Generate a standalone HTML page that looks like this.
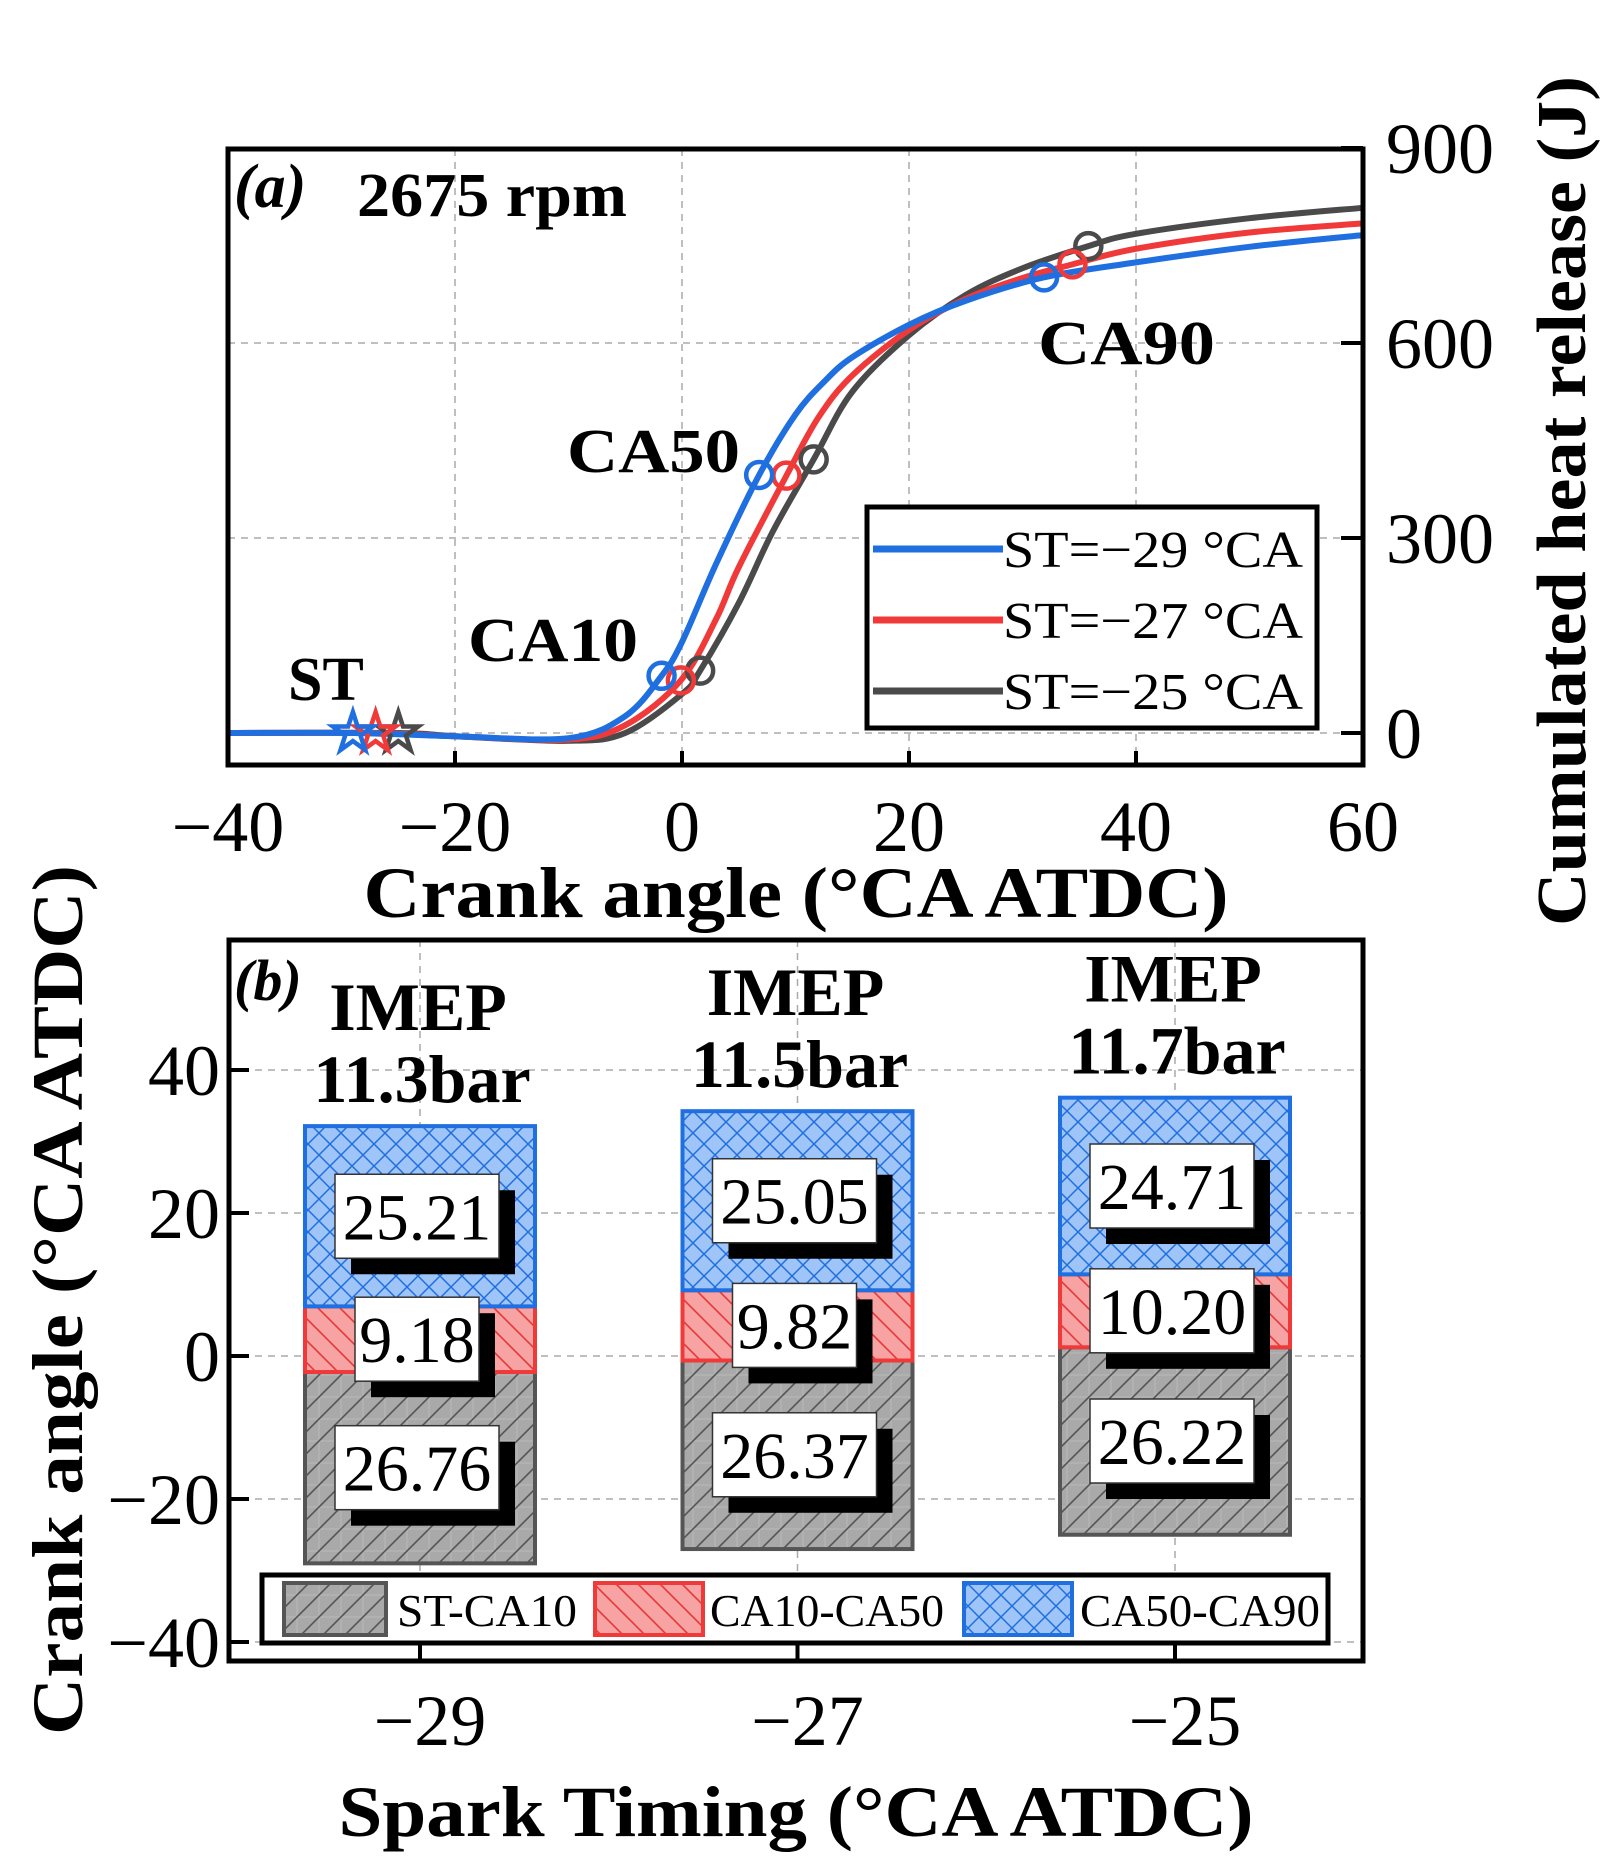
<!DOCTYPE html>
<html><head><meta charset="utf-8"><style>
html,body{margin:0;padding:0;background:#fff;}
svg{display:block;font-family:"Liberation Serif",serif;}
</style></head><body>
<svg id="fig" width="1612" height="1869" viewBox="0 0 1612 1869" xmlns="http://www.w3.org/2000/svg">
<defs>
<pattern id="hatGray" patternUnits="userSpaceOnUse" width="22" height="22">
<rect width="22" height="22" fill="#a9a9a9"/>
<path d="M0 11H22M11 0V22" stroke="#b9b9b9" stroke-width="1"/>
<path d="M-2 24L24 -2M-2 2L2 -2M20 24L24 20" stroke="#555" stroke-width="1.6"/>
</pattern>
<pattern id="hatRed" patternUnits="userSpaceOnUse" width="22" height="22">
<rect width="22" height="22" fill="#f7a3a3"/>
<path d="M-2 -2L24 24M-2 20L2 24M20 -2L24 2" stroke="#e83838" stroke-width="1.6"/>
</pattern>
<pattern id="hatBlue" patternUnits="userSpaceOnUse" width="22" height="22">
<rect width="22" height="22" fill="#9fc4f7"/>
<path d="M-2 -2L24 24M-2 24L24 -2" stroke="#1f6fe0" stroke-width="1.5"/>
</pattern>
</defs>
<g id="pa"></g>
<g id="pb"></g>
</svg>
<script>
// ---------- Panel (a) data ----------
const aXTicks = [-40, -20, 0, 20, 40, 60];
const aYTicks = [0, 300, 600, 900];
const seriesNames = ["ST=\u221229 \u00b0CA", "ST=\u221227 \u00b0CA", "ST=\u221225 \u00b0CA"];
const sparkTimes = [-29, -27, -25];
const blueX = [-40,-29,-20,-10,-5,-1.8,0,3,6.8,10,12.5,15,20,25,31.9,40,50,60];
const blueY = [0,0,-5,-8,26,88,140,260,397,490,540,578,628,665,701,724,748,766];
const redX = [-40,-27,-20,-10,-5,-0.1,3,5,9.2,12,15,20,25,30,34.4,40,50,60];
const redY = [0,0,-5,-10,12,81,175,255,396,485,550,620,668,700,721,745,770,784];
const grayX = [-40,-25,-20,-10,-5,0,1.6,5,8,11.6,15,20,25,30,35.8,40,50,60];
const grayY = [0,0,-5,-12,0,60,96,200,310,421,525,612,674,715,749,768,792,808];
const ca10X = [-1.8,-0.1,1.6], ca10Y = [88,81,96];
const ca50X = [6.8,9.2,11.6], ca50Y = [397,396,421];
const ca90X = [31.9,34.4,35.8], ca90Y = [701,721,749];
// ---------- Panel (b) data ----------
const bCats = ["\u221229", "\u221227", "\u221225"];
const bST = [-29, -27, -25];
const stToCa10 = [26.76, 26.37, 26.22];
const ca10ToCa50 = [9.18, 9.82, 10.20];
const ca50ToCa90 = [25.21, 25.05, 24.71];
const imepLabels = ["11.3bar", "11.5bar", "11.7bar"];
const bYTicks = [-40, -20, 0, 20, 40];

const NS = "http://www.w3.org/2000/svg";
function mk(tag, attrs, parent, text){
  const e = document.createElementNS(NS, tag);
  for (const k in attrs) e.setAttribute(k, attrs[k]);
  if (text !== undefined) e.textContent = text;
  parent.appendChild(e);
  return e;
}
const colors = ["#1f6fe0", "#f03a3a", "#4a4a4a"];
const pa = document.getElementById('pa');
const ax = {l:228, r:1363, t:149, b:765};
const xa = v => ax.l + (v + 40) / 100 * (ax.r - ax.l);
const ya = v => 733 - v * 195 / 300;

aXTicks.slice(1, -1).forEach(t => {
  const g = mk('line', {x1:xa(t), x2:xa(t), y1:ax.t, y2:ax.b, stroke:'#aaa', 'stroke-width':1.5, 'stroke-dasharray':'7 6'}, pa);
  
  
});
aYTicks.forEach(t => {
  const g = mk('line', {x1:ax.l, x2:ax.r, y1:ya(t), y2:ya(t), stroke:'#aaa', 'stroke-width':1.5, 'stroke-dasharray':'7 6'}, pa);
  
  
});
function spline(xs, ys){
  const p = xs.map((x,i)=>[xa(x), ya(ys[i])]);
  let d = `M${p[0][0]},${p[0][1]}`;
  for (let i=0;i<p.length-1;i++){
    const p0=p[Math.max(0,i-1)], p1=p[i], p2=p[i+1], p3=p[Math.min(p.length-1,i+2)];
    const c1=[p1[0]+(p2[0]-p0[0])/6, p1[1]+(p2[1]-p0[1])/6];
    const c2=[p2[0]-(p3[0]-p1[0])/6, p2[1]-(p3[1]-p1[1])/6];
    d += ` C${c1[0]},${c1[1]} ${c2[0]},${c2[1]} ${p2[0]},${p2[1]}`;
  }
  return d;
}
const curveData = [[grayX,grayY,2],[redX,redY,1],[blueX,blueY,0]];
curveData.forEach(([xs,ys,ci]) => {
  const c = mk('path', {d:spline(xs,ys), fill:'none', stroke:colors[ci], 'stroke-width':6}, pa);
  
  
});
[2,1,0].forEach(i => {
  [[ca10X,ca10Y],[ca50X,ca50Y],[ca90X,ca90Y]].forEach(([xs,ys], k) => {
    const m = mk('circle', {cx:xa(xs[i]), cy:ya(ys[i]), r:13, fill:'none', stroke:colors[i], 'stroke-width':4.5}, pa);
    
    
  });
  const cx = xa(sparkTimes[i]), cy = ya(0);
  let pts = [];
  for (let j=0;j<10;j++){ const r = j%2? 8:21; const a = -Math.PI/2 + j*Math.PI/5; pts.push((cx+r*Math.cos(a)).toFixed(1)+','+(cy+r*Math.sin(a)).toFixed(1)); }
  const s = mk('polygon', {points:pts.join(' '), fill:'none', stroke:colors[i], 'stroke-width':4.5}, pa);
  
  
});
mk('rect', {x:ax.l, y:ax.t, width:ax.r-ax.l, height:ax.b-ax.t, fill:'none', stroke:'#000', 'stroke-width':5}, pa);
aXTicks.forEach(t => {
  mk('line', {x1:xa(t), x2:xa(t), y1:ax.b, y2:ax.b-14, stroke:'#000', 'stroke-width':4}, pa);
  const l = mk('text', {x:xa(t), y:851, 'font-size':72, 'text-anchor':'middle'}, pa, t<0 ? '\u2212'+(-t) : String(t));
  
  
});
aYTicks.forEach(t => {
  mk('line', {x1:ax.r, x2:ax.r-22, y1:ya(t), y2:ya(t), stroke:'#000', 'stroke-width':4}, pa);
  const l = mk('text', {x:1386, y:ya(t)+25, 'font-size':72}, pa, String(t));
  
  
});
</script>
<script>
(function(){
const pa = document.getElementById('pa');
pa.insertAdjacentHTML('beforeend', `
<text x="234" y="207" font-size="62" font-style="italic" font-weight="bold">(a)</text>
<text x="357" y="216" font-size="62" font-weight="bold" textLength="270" lengthAdjust="spacingAndGlyphs">2675 rpm</text>
<text x="288" y="700" font-size="62" font-weight="bold">ST</text>
<text x="468" y="661" font-size="62" font-weight="bold" textLength="170" lengthAdjust="spacingAndGlyphs">CA10</text>
<text x="567" y="472" font-size="62" font-weight="bold" textLength="173" lengthAdjust="spacingAndGlyphs">CA50</text>
<text x="1038" y="364" font-size="62" font-weight="bold" textLength="177" lengthAdjust="spacingAndGlyphs">CA90</text>
<g>
<rect x="867" y="507" width="450" height="221" fill="#fff" stroke="#000" stroke-width="5"/>
<line x1="873" x2="1003" y1="549" y2="549" stroke="#1f6fe0" stroke-width="7"/>
<line x1="873" x2="1003" y1="620" y2="620" stroke="#f03a3a" stroke-width="7"/>
<line x1="873" x2="1003" y1="691" y2="691" stroke="#4a4a4a" stroke-width="7"/>
<text x="1003" y="567" font-size="52" textLength="300" lengthAdjust="spacingAndGlyphs">ST=\u221229 \u00b0CA</text>
<text x="1003" y="638" font-size="52" textLength="300" lengthAdjust="spacingAndGlyphs">ST=\u221227 \u00b0CA</text>
<text x="1003" y="709" font-size="52" textLength="300" lengthAdjust="spacingAndGlyphs">ST=\u221225 \u00b0CA</text>
</g>
<text x="796" y="917" font-size="72" font-weight="bold" text-anchor="middle" textLength="865" lengthAdjust="spacingAndGlyphs">Crank angle (\u00b0CA ATDC)</text>
<text transform="translate(1585,501) rotate(-90)" font-size="70" font-weight="bold" text-anchor="middle" textLength="850" lengthAdjust="spacingAndGlyphs">Cumulated heat release (J)</text>
`);
})();
</script>
<script>
const pb = document.getElementById('pb');
const bx = {l:229, r:1363, t:940, b:1661};
const xb = i => 420 + i * (1175 - 420) / 2;
const yb = v => 1356 - v * 7.15;
const barW = 230;
bCats.forEach((c,i) => {
  const g = mk('line', {x1:xb(i), x2:xb(i), y1:bx.t, y2:bx.b, stroke:'#aaa', 'stroke-width':1.5, 'stroke-dasharray':'7 6'}, pb);
  
  
});
bYTicks.forEach(t => {
  const g = mk('line', {x1:bx.l, x2:bx.r, y1:yb(t), y2:yb(t), stroke:'#aaa', 'stroke-width':1.5, 'stroke-dasharray':'7 6'}, pb);
  
  
});
const segDefs = [[stToCa10,'url(#hatGray)','#555','st-ca10'],[ca10ToCa50,'url(#hatRed)','#f03a3a','ca10-ca50'],[ca50ToCa90,'url(#hatBlue)','#1f6fe0','ca50-ca90']];
bCats.forEach((c,i) => {
  let base = bST[i];
  const segs = [];
  segDefs.forEach(([arr,fill,stroke,nm]) => {
    const v0 = base, v1 = base + arr[i];
    const r = mk('rect', {x:xb(i)-barW/2, y:yb(v1), width:barW, height:yb(v0)-yb(v1), fill:fill, stroke:stroke, 'stroke-width':4}, pb);
    
    
    segs.push([v0, v1, arr[i]]);
    base = v1;
  });
  segs.forEach(([v0,v1,val]) => {
    const cy = (yb(v0)+yb(v1))/2;
    const txt = val.toFixed(2);
    const w = txt.length >= 5 ? 164 : 124;
    const h = 84;
    const cx = xb(i) - 3;
    mk('rect', {x:cx-w/2+16, y:cy-h/2+16, width:w, height:h, fill:'#000'}, pb);
    const bxr = mk('rect', {x:cx-w/2, y:cy-h/2, width:w, height:h, fill:'#fff', stroke:'#333', 'stroke-width':1.5}, pb);
    
    
    const t = mk('text', {x:cx, y:cy+23, 'font-size':66, 'text-anchor':'middle'}, pb, txt);
    
    
  });
  const imepTop = yb(bST[i] + stToCa10[i] + ca10ToCa50[i] + ca50ToCa90[i]);
  const t1 = mk('text', {x:xb(i)-2, y:imepTop-96, 'font-size':68, 'font-weight':'bold', 'text-anchor':'middle'}, pb, 'IMEP');
  
  
  const t2 = mk('text', {x:xb(i)+2, y:imepTop-24, 'font-size':68, 'font-weight':'bold', 'text-anchor':'middle'}, pb, imepLabels[i]);
  
  
  mk('line', {x1:xb(i), x2:xb(i), y1:bx.b, y2:bx.b-16, stroke:'#000', 'stroke-width':4}, pb);
  const tl = mk('text', {x:xb(i)+10, y:1745, 'font-size':72, 'text-anchor':'middle'}, pb, c);
  
  
});
bYTicks.forEach(t => {
  mk('line', {x1:bx.l, x2:bx.l+20, y1:yb(t), y2:yb(t), stroke:'#000', 'stroke-width':4}, pb);
  const l = mk('text', {x:220, y:yb(t)+25, 'font-size':72, 'text-anchor':'end'}, pb, t<0 ? '\u2212'+(-t) : String(t));
  
  
});
mk('rect', {x:bx.l, y:bx.t, width:bx.r-bx.l, height:bx.b-bx.t, fill:'none', stroke:'#000', 'stroke-width':5}, pb);
pb.insertAdjacentHTML('beforeend', `
<text x="234" y="1000" font-size="58" font-style="italic" font-weight="bold">(b)</text>
<g>
<rect x="262" y="1575" width="1066" height="68" fill="#fff" stroke="#000" stroke-width="5"/>
<rect x="284" y="1583" width="102" height="52" fill="url(#hatGray)" stroke="#555" stroke-width="4"/>
<text x="397" y="1626" font-size="46" textLength="180" lengthAdjust="spacingAndGlyphs">ST-CA10</text>
<rect x="595" y="1583" width="108" height="52" fill="url(#hatRed)" stroke="#f03a3a" stroke-width="4"/>
<text x="710" y="1626" font-size="46" textLength="234" lengthAdjust="spacingAndGlyphs">CA10-CA50</text>
<rect x="964" y="1583" width="108" height="52" fill="url(#hatBlue)" stroke="#1f6fe0" stroke-width="4"/>
<text x="1080" y="1626" font-size="46" textLength="240" lengthAdjust="spacingAndGlyphs">CA50-CA90</text>
</g>
<text x="796" y="1836" font-size="72" font-weight="bold" text-anchor="middle" textLength="915" lengthAdjust="spacingAndGlyphs">Spark Timing (\u00b0CA ATDC)</text>
<text transform="translate(82,1300) rotate(-90)" font-size="72" font-weight="bold" text-anchor="middle" textLength="870" lengthAdjust="spacingAndGlyphs">Crank angle (\u00b0CA ATDC)</text>
`);
</script>
</body></html>
